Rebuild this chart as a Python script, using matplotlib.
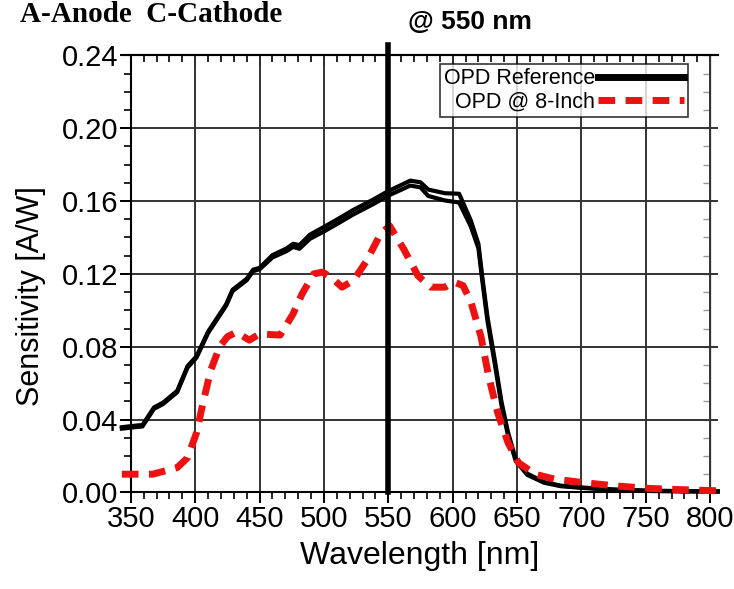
import numpy as np
import matplotlib.pyplot as plt
from matplotlib.ticker import MultipleLocator

# OPD reference (measured twice, drawn as two close black traces)
ref_wl = [343, 354, 359, 368, 375, 386, 394, 401, 410, 424, 429, 440, 445, 450,
          460, 471, 476, 481, 489, 500, 510, 523, 538, 550, 560, 567, 575, 581,
          594, 605, 614, 620, 623, 627, 633, 638, 643, 649, 658, 671, 684, 700,
          726, 752, 780, 806]
ref_a = [0.0358, 0.0367, 0.0370, 0.0467, 0.0493, 0.0558, 0.0693, 0.0748, 0.0883,
         0.1033, 0.1113, 0.1173, 0.1223, 0.1233, 0.1303, 0.1340, 0.1365, 0.1358,
         0.1415, 0.1458, 0.1498, 0.1552, 0.1607, 0.1655, 0.1688, 0.1712, 0.1703,
         0.1663, 0.1643, 0.1640, 0.1495, 0.1365, 0.1185, 0.0965, 0.0715, 0.0495,
         0.0330, 0.0183, 0.0103, 0.0057, 0.0037, 0.0027, 0.0016, 0.0010, 0.0007,
         0.0006]
ref_b = [0.0350, 0.0359, 0.0362, 0.0459, 0.0485, 0.0550, 0.0685, 0.0740, 0.0875,
         0.1025, 0.1105, 0.1165, 0.1215, 0.1225, 0.1290, 0.1325, 0.1348, 0.1338,
         0.1392, 0.1433, 0.1473, 0.1527, 0.1582, 0.1630, 0.1662, 0.1685, 0.1675,
         0.1628, 0.1603, 0.1592, 0.1462, 0.1340, 0.1163, 0.0943, 0.0693, 0.0475,
         0.0312, 0.0172, 0.0096, 0.0053, 0.0034, 0.0025, 0.0014, 0.0008, 0.0005,
         0.0004]

# OPD @ 8-inch
inch_wl = [343, 367, 386, 394, 401, 406, 412, 419, 425, 432, 442, 450, 466,
           476, 483, 492, 499, 507, 514, 523, 533, 544, 551, 562, 573, 583,
           594, 601, 608, 614, 622, 628, 635, 643, 651, 664, 679, 700, 726,
           752, 778, 806]
inch_s = [0.010, 0.010, 0.0136, 0.019, 0.0327, 0.049, 0.067, 0.080, 0.0855,
          0.088, 0.0836, 0.087, 0.0864, 0.098, 0.109, 0.120, 0.121, 0.1173,
          0.1127, 0.1164, 0.127, 0.142, 0.1464, 0.1336, 0.119, 0.1127, 0.1127,
          0.1155, 0.1136, 0.105, 0.0855, 0.0636, 0.0436, 0.0273, 0.0164,
          0.010, 0.0073, 0.0055, 0.0036, 0.0022, 0.0015, 0.0009]

plt.rcParams['font.family'] = ['Liberation Sans', 'DejaVu Sans']

fig = plt.figure(figsize=(7.34, 5.89), dpi=100)
ax = fig.add_axes([0.166, 0.164, 0.812, 0.742])

ax.plot(ref_wl, ref_a, color='black', lw=3.0, clip_on=False, zorder=4,
        label='OPD Reference')
ax.plot(ref_wl, ref_b, color='black', lw=3.0, clip_on=False, zorder=4)
ax.plot(inch_wl, inch_s, color='#ee1111', lw=5, ls=(0, (2.4, 1.5)),
        clip_on=False, zorder=5, label='OPD @ 8-Inch')

ax.axvline(550, ymin=0, ymax=1.023, color='black', lw=4, clip_on=False, zorder=6)

xmin, xmax = 343, 806
ax.set_xlim(xmin, xmax)
ax.set_ylim(0, 0.24)
ax.xaxis.set_minor_locator(MultipleLocator(10))
ax.yaxis.set_minor_locator(MultipleLocator(0.01))
ax.set_xticks(range(350, 801, 50))
yt = np.arange(0, 0.241, 0.04)
ax.set_yticks(yt)
ax.set_yticklabels(['%.2f' % v for v in yt])

ax.grid(True, which='major', color='#333333', lw=1.4)
ax.spines['left'].set_position(('data', 350))
ax.spines['right'].set_visible(False)
for s in ax.spines.values():
    s.set_linewidth(1.5)

ax.tick_params(axis='both', which='major', labelsize=21, width=1.4, length=8,
               direction='out', pad=1)
ax.tick_params(axis='both', which='minor', width=1.2, length=5, direction='out')

# inward ticks on top and on the right (at 800 nm)
top = ax.secondary_xaxis('top')
top.set_xticks(range(350, 801, 50))
top.xaxis.set_minor_locator(MultipleLocator(10))
top.tick_params(which='major', direction='in', length=8, width=1.4, labeltop=False)
top.tick_params(which='minor', direction='in', length=5, width=1.2)
top.spines['top'].set_linewidth(1.5)

right = ax.secondary_yaxis((800 - xmin) / (xmax - xmin))
right.set_yticks(yt)
right.yaxis.set_minor_locator(MultipleLocator(0.01))
right.tick_params(which='both', direction='in', length=5, width=1.0,
                  color='#999999', labelright=False)
right.spines['right'].set_color('#777777')
right.spines['right'].set_linewidth(1.0)

ax.set_xlabel('Wavelength [nm]', fontsize=23, labelpad=6)
ax.set_ylabel('Sensitivity [A/W]', fontsize=22)
ax.yaxis.set_label_coords(-0.128, 0.45)

leg = ax.legend(loc='upper right', bbox_to_anchor=(0.957, 0.99), fontsize=15.5,
                markerfirst=False, frameon=True, fancybox=False, edgecolor='black',
                handlelength=4.0, borderpad=0.2, labelspacing=0.1,
                handletextpad=0.1, borderaxespad=0.2)
leg.get_frame().set_linewidth(1.2)
for h in leg.get_lines():
    h.set_linewidth(5)

fig.text(0.027, 0.998, 'A-Anode  C-Cathode', fontsize=21, fontweight='bold',
         family=['Liberation Serif', 'DejaVu Serif'], va='top')
fig.text(0.64, 0.963, '@ 550 nm', fontsize=19, fontweight='bold', ha='center',
         va='center')

fig.savefig('out.png', dpi=100)
